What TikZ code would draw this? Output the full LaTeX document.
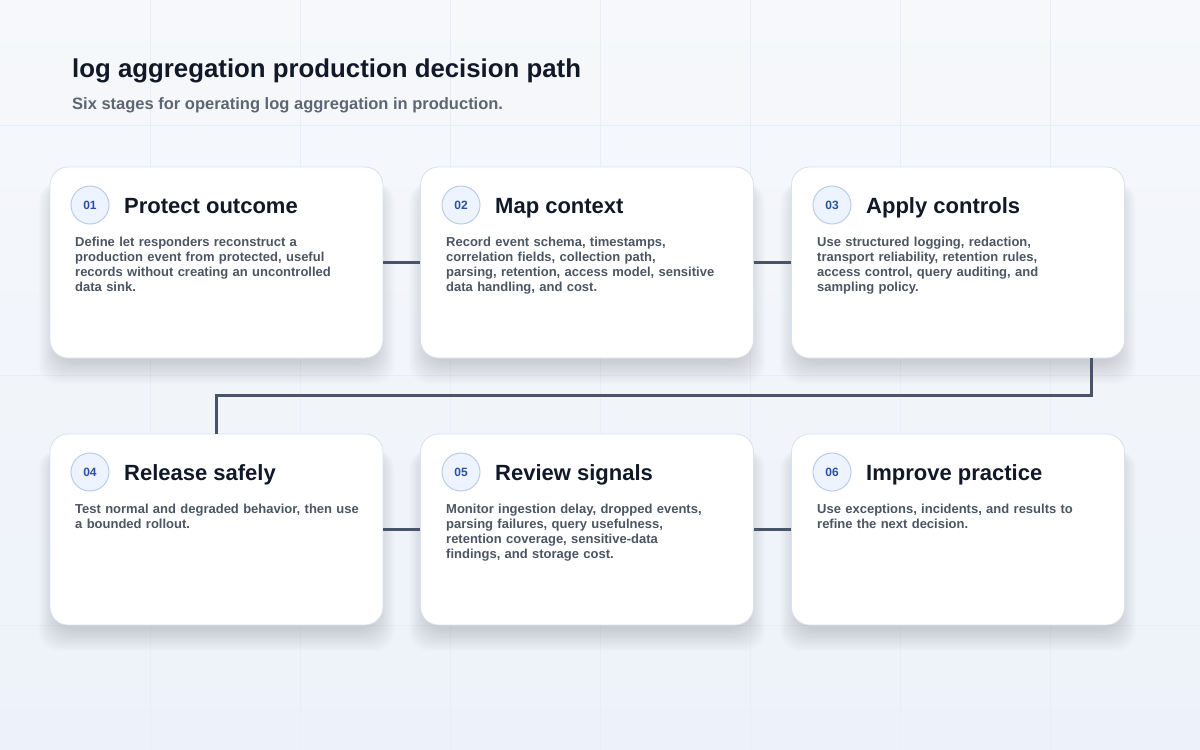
\documentclass[tikz,border=0pt]{standalone}
\usepackage{fontspec}
\setmainfont{Liberation Sans}
\definecolor{ink}{HTML}{111827}
\definecolor{slate}{HTML}{4B5563}
\definecolor{wire}{HTML}{475569}
\definecolor{rim}{HTML}{D9E1EC}
\definecolor{gridln}{HTML}{E9EDF4}
\definecolor{badgefill}{HTML}{EEF4FF}
\definecolor{badgerim}{HTML}{B9CCEA}
\definecolor{badgeink}{HTML}{2B4FA0}
\definecolor{bgtop}{HTML}{F6F8FB}
\definecolor{bgbot}{HTML}{EDF2FA}
\tikzset{
  card/.style={draw=rim, line width=0.8pt, fill=white, rounded corners=18pt,
    minimum width=333pt, minimum height=191pt},
  halo/.style={fill=wire, opacity=0.01},
  badge/.style={circle, draw=badgerim, line width=1pt, fill=badgefill, minimum size=38pt,
    inner sep=0pt, font=\fontsize{12}{12}\selectfont\bfseries, text=badgeink},
  heading/.style={anchor=base west, inner sep=0pt, font=\fontsize{22}{24}\selectfont\bfseries, text=ink},
  body/.style={anchor=north west, inner sep=0pt, text width=300pt, align=left,
    font=\fontsize{13}{15}\selectfont\bfseries, text=slate},
  link/.style={draw=wire, line width=3pt},
}
\begin{document}
\begin{tikzpicture}[x=1pt,y=-1pt]
  \useasboundingbox (0,0) rectangle (1200,750);
  \shade[top color=bgtop, bottom color=bgbot] (0,0) rectangle (1200,750);
  \foreach \gx in {150,300,...,1050} \draw[gridln] (\gx,0) -- (\gx,750);
  \foreach \gy in {125,375,625} \draw[gridln] (0,\gy) -- (1200,\gy);

  \node[anchor=base west, inner sep=0pt, font=\fontsize{25.8}{30}\selectfont\bfseries, text=ink] (title) at (72,77) {log aggregation production decision path};
  \node[anchor=base west, inner sep=0pt, font=\fontsize{16.5}{20}\selectfont\bfseries, text=slate!90] (subtitle) at (72,109) {Six stages for operating log aggregation in production.};

  % soft shadows under the cards
  \foreach \cx/\cy in {216.5/262.5, 587/262.5, 958/262.5, 216.5/529.5, 587/529.5, 958/529.5}
    \foreach \k in {0,...,18}
      \fill[halo, rounded corners=20pt] (\cx-160-\k,\cy-80) rectangle (\cx+160+\k,\cy+100+1.2*\k);

  % first row
  \node[card] (c1) at (216.5,262.5) {};
  \node[card] (c2) at (587,262.5) {};
  \node[card] (c3) at (958,262.5) {};
  % second row
  \node[card] (c4) at (216.5,529.5) {};
  \node[card] (c5) at (587,529.5) {};
  \node[card] (c6) at (958,529.5) {};

  \node[badge] (b1) at (90,205) {01};
  \node[heading] (h1) at (124,213) {Protect outcome};
  \node[body] (t1) at (75,236.5) {Define let responders reconstruct a\\production event from protected, useful\\records without creating an uncontrolled\\data sink.};

  \node[badge] (b2) at (461,205) {02};
  \node[heading] (h2) at (495,213) {Map context};
  \node[body] (t2) at (446,236.5) {Record event schema, timestamps,\\correlation fields, collection path,\\parsing, retention, access model, sensitive\\data handling, and cost.};

  \node[badge] (b3) at (832,205) {03};
  \node[heading] (h3) at (866,213) {Apply controls};
  \node[body] (t3) at (817,236.5) {Use structured logging, redaction,\\transport reliability, retention rules,\\access control, query auditing, and\\sampling policy.};

  \node[badge] (b4) at (90,472) {04};
  \node[heading] (h4) at (124,480) {Release safely};
  \node[body] (t4) at (75,503.5) {Test normal and degraded behavior, then use\\a bounded rollout.};

  \node[badge] (b5) at (461,472) {05};
  \node[heading] (h5) at (495,480) {Review signals};
  \node[body] (t5) at (446,503.5) {Monitor ingestion delay, dropped events,\\parsing failures, query usefulness,\\retention coverage, sensitive-data\\findings, and storage cost.};

  \node[badge] (b6) at (832,472) {06};
  \node[heading] (h6) at (866,480) {Improve practice};
  \node[body] (t6) at (817,503.5) {Use exceptions, incidents, and results to\\refine the next decision.};

  % connectors
  \draw[link] (c1.east) -- (c2.west);
  \draw[link] (c2.east) -- (c3.west);
  \draw[link] ([xshift=133pt]c3.south) -- ++(0,37) -| (c4.north);
  \draw[link] (c4.east) -- (c5.west);
  \draw[link] (c5.east) -- (c6.west);
\end{tikzpicture}
\end{document}
